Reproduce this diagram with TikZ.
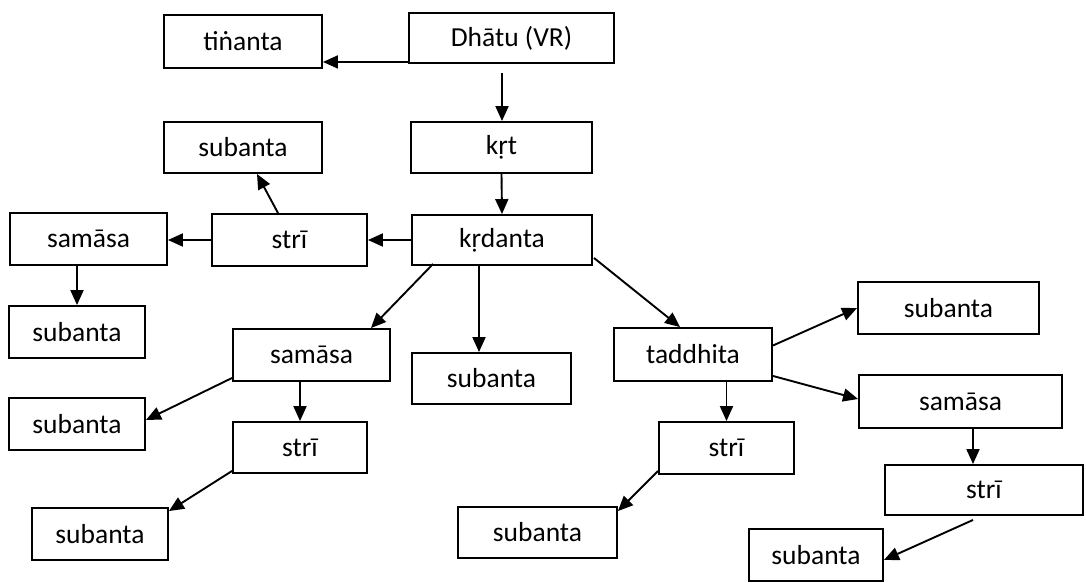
\documentclass[tikz,border=0pt]{standalone}
\usepackage{fontspec}
\setmainfont{Carlito}
\usetikzlibrary{arrows.meta,calc}
\begin{document}
\begin{tikzpicture}[x=1pt,y=-1pt,
  box/.style={draw,line width=1.9pt,inner sep=0pt,font=\fontsize{27.5}{30}\selectfont},
  arr/.style={line width=1.9pt,-{Triangle[length=15pt,width=13pt]}}]
\useasboundingbox[fill=white] (0,0) rectangle (1086,582);
% nodes
\node[box,minimum width=205pt,minimum height=50pt] (dhatu) at (511.5,38) {Dhātu (VR)};
\node[box,minimum width=158pt,minimum height=53pt] (tin) at (243,41.5) {tiṅanta};
\node[box,minimum width=181pt,minimum height=51pt] (krt) at (501.5,147.5) {kṛt};
\node[box,minimum width=158pt,minimum height=51pt] (subTL) at (243,147.5) {subanta};
\node[box,minimum width=157pt,minimum height=52pt] (samL) at (88.5,239) {samāsa};
\node[box,minimum width=155pt,minimum height=52pt] (striL) at (289.5,240) {strī};
\node[box,minimum width=180pt,minimum height=50pt] (krd) at (502,240) {kṛdanta};
\node[box,minimum width=136pt,minimum height=52pt] (subL1) at (77,332) {subanta};
\node[box,minimum width=157pt,minimum height=52pt] (samM) at (311.5,355) {samāsa};
\node[box,minimum width=159pt,minimum height=51pt] (subM) at (491.5,378.5) {subanta};
\node[box,minimum width=158pt,minimum height=53pt] (tadd) at (693,354.5) {taddhita};
\node[box,minimum width=181pt,minimum height=52pt] (subR1) at (948.5,308) {subanta};
\node[box,minimum width=136pt,minimum height=52pt] (subL2) at (77,424) {subanta};
\node[box,minimum width=134pt,minimum height=51pt] (striM) at (300,447.5) {strī};
\node[box,minimum width=135pt,minimum height=52pt] (striR) at (726.5,448) {strī};
\node[box,minimum width=203pt,minimum height=53pt] (samR) at (960.5,401.5) {samāsa};
\node[box,minimum width=136pt,minimum height=52pt] (subL3) at (100,534) {subanta};
\node[box,minimum width=159pt,minimum height=51pt] (subM2) at (537.5,532.5) {subanta};
\node[box,minimum width=198pt,minimum height=50pt] (striRR) at (984,490) {strī};
\node[box,minimum width=134pt,minimum height=52pt] (subR2) at (816,555) {subanta};
% connectors
\coordinate (a1) at ($(dhatu.south west)+(0,-2)$);
\draw[arr] (a1) -- (tin.east |- a1);
\coordinate (a2) at (502,73);
\draw[arr] (a2) -- (a2 |- krt.north);
\draw[arr] (krt.south) -- (krd.north);
\draw[arr] (krd.west) -- (striL.east);
\draw[arr] (striL.west) -- (samL.east |- striL.west);
\draw[arr] ($(striL.north)+(-11.5,0)$) -- ($(subTL.south)+(14,0)$);
\draw[arr] (subL1.north |- samL.south) -- (subL1.north);
\draw[arr] ($(krd.south west)+(22,-2)$) -- ($(samM.north east)+(-20,0)$);
\coordinate (a3) at ($(krd.south)+(-23,0)$);
\draw[arr] (a3) -- (a3 |- subM.north);
\draw[arr] ($(krd.south east)+(1,-8)$) -- ($(tadd.north)+(-13,0)$);
\draw[arr] (striM.north |- samM.south) -- (striM.north);
\draw[arr] ($(samM.south west)+(0,-4)$) -- ($(subL2.east)+(0,-4)$);
\draw[arr] ($(striM.south west)+(0,-3)$) -- ($(subL3.north east)+(0,4)$);
\draw[arr] (striR.north |- tadd.south) -- (striR.north);
\draw[arr] ($(tadd.east)+(0,-9)$) -- (subR1.west);
\draw[arr] ($(tadd.south east)+(0,-6)$) -- ($(samR.west)+(0,-2.5)$);
\coordinate (a4) at ($(samR.south)+(12.5,0)$);
\draw[arr] (a4) -- (a4 |- striRR.north);
\draw[arr] ($(striR.south west)+(0,-4)$) -- ($(subM2.north east)+(0,5)$);
\draw[arr] ($(striRR.south)+(-11,4)$) -- ($(subR2.east)+(0,5)$);
\end{tikzpicture}
\end{document}
